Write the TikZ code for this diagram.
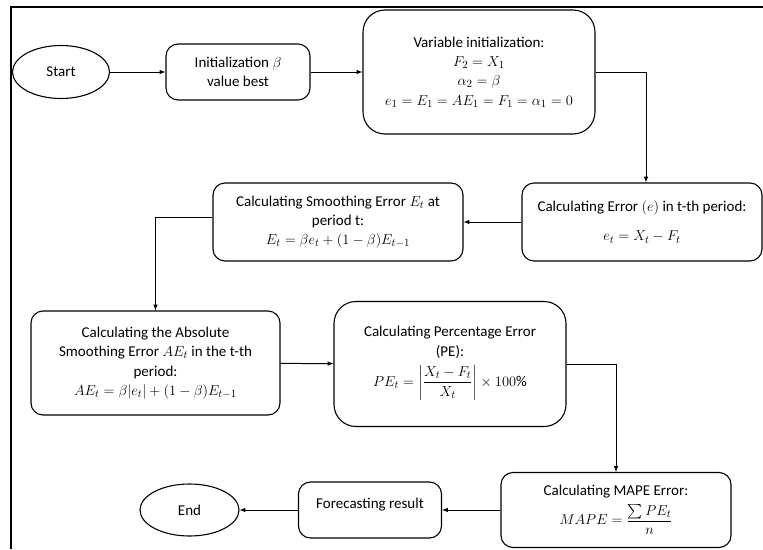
\documentclass[tikz,border=0pt]{standalone}
\usepackage{amsmath}
\usepackage{fontspec}
\setmainfont{Carlito}
\usetikzlibrary{shapes.geometric}

\begin{document}
\begin{tikzpicture}[x=1pt,y=-1pt,>=latex,
	procnode/.style={draw,line width=1.1pt,rounded corners=12pt,align=center,inner sep=2pt,font=\fontsize{15}{19.3}\selectfont},
	bignode/.style={procnode,rounded corners=22pt},
	termnode/.style={draw,ellipse,line width=1.1pt,inner sep=0pt,font=\fontsize{15}{19.3}\selectfont},
	flow/.style={->,line width=1pt}]
		\useasboundingbox (0,0) rectangle (763,549);
		\draw[line width=1.4pt] (11,549) -- (11,7) -- (763,7);

		\node[termnode,minimum width=97pt,minimum height=53pt] 	(start)	at (61,72)	{Start};
		\node[procnode,minimum width=144pt,minimum height=56pt] 	(init)	at (238,72)	{Initialization $\beta$\\ value best};
		\node[bignode,minimum width=232pt,minimum height=124pt] 	(var)	at (479,72)	{Variable initialization:\\ $F_2 = X_1$\\ $\alpha_2 = \beta$\\ $e_1 = E_1 = AE_1 = F_1 = \alpha_1 = 0$};
		\node[procnode,minimum width=240pt,minimum height=78pt] 	(err)	at (642,222)	{Calculating Error $(e)$ in t-th period:\\[10pt] $e_t = X_t - F_t$};
		\node[procnode,minimum width=250pt,minimum height=78pt] 	(smooth)	at (338,222)	{Calculating Smoothing Error $E_t$ at\\ period t:\\ $E_t = \beta e_t + (1-\beta)E_{t-1}$};

		\node[procnode,minimum width=249pt,minimum height=104pt] 	(abs)	at (155.5,363)	{Calculating the Absolute\\ Smoothing Error $AE_t$ in the t-th\\ period:\\ $AE_t = \beta|e_t| + (1-\beta)E_{t-1}$};
		\node[bignode,minimum width=232pt,minimum height=125pt] 	(pct)	at (450,364)	{Calculating Percentage Error\\ (PE):\\[6pt] $PE_t = \left|\dfrac{X_t - F_t}{X_t}\right| \times 100\%$\\[-4pt] \mbox{}};

		\node[procnode,minimum width=230pt,minimum height=75pt] 	(mape)	at (616,510)	{Calculating MAPE Error:\\[5pt] $MAPE = \dfrac{\sum PE_t}{n}$};
		\node[procnode,minimum width=143pt,minimum height=56pt] 	(fore)	at (370,510)	{Forecasting result\\[-6pt] \mbox{}};
		\node[termnode,minimum width=99pt,minimum height=52pt] 	(end)	at (189.5,510)	{End};

		\draw[flow] (start) -- (init);
		\draw[flow] (init) -- (var);
		\draw[flow] (var.east) -| ([xshift=4pt]err.north);
		\draw[flow] (err) -- (smooth);
		\draw[flow] ([yshift=5pt]smooth.west) -| (abs.north);
		\draw[flow] (abs) -- (pct);
		\draw[flow] (pct.east) -| (mape.north);
		\draw[flow] (mape) -- (fore);
		\draw[flow] (fore) -- (end);
	\end{tikzpicture}
\end{document}
